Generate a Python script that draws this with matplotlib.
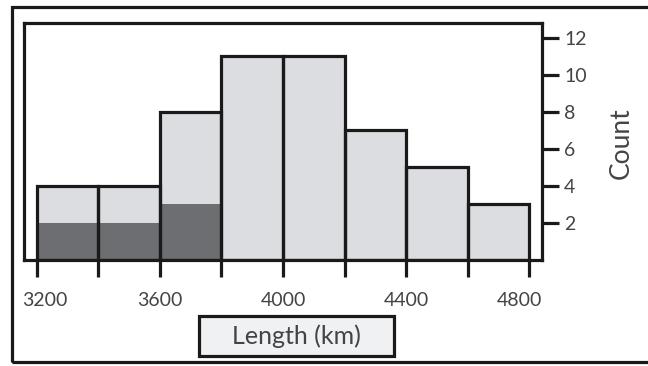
import matplotlib.pyplot as plt
import matplotlib.transforms as mtransforms
from matplotlib.patches import Rectangle

plt.rcParams['font.family'] = ['Lato', 'DejaVu Sans']

# bins and counts
edges = [3200, 3400, 3600, 3800, 4000, 4200, 4400, 4600, 4800]
counts = [4, 4, 8, 11, 11, 7, 5, 3]
dark_counts = [2, 2, 3, 0, 0, 0, 0, 0]
xtick_labels = ['3200', '', '3600', '', '4000', '', '4400', '', '4800']
yticks = [2, 4, 6, 8, 10, 12]

light = '#dcdde0'
dark = '#6d6e71'
txt = '#444444'
lw = 2.3

fig = plt.figure(figsize=(6.48, 3.66), dpi=100)
W, H = 648, 366
ax = fig.add_axes([24 / W, 1 - 260 / H, (542 - 24) / W, (260 - 23) / H])

widths = [edges[i + 1] - edges[i] for i in range(len(counts))]
ax.bar(edges[:-1], counts, width=widths, align='edge', color=light, linewidth=0, zorder=1)
ax.bar(edges[:-1], dark_counts, width=widths, align='edge', color=dark, linewidth=0, zorder=2)
ax.bar(edges[:-1], counts, width=widths, align='edge', fill=False, edgecolor='#1a1a1a',
       linewidth=lw, zorder=3)

ax.set_xlim(3158, 4842)
ax.set_ylim(0, 12.8)

for s in ax.spines.values():
    s.set_linewidth(lw)
    s.set_color('#1a1a1a')

ax.set_xticks(edges)
ax.set_xticklabels(xtick_labels, fontsize=14, color=txt)
ax.tick_params(axis='x', direction='out', length=12, width=lw, color='#1a1a1a', pad=11)

# end labels sit a bit inward of their ticks
labs = ax.get_xticklabels()
labs[0].set_transform(labs[0].get_transform() + mtransforms.ScaledTranslation(0.08, 0, fig.dpi_scale_trans))
labs[-1].set_transform(labs[-1].get_transform() + mtransforms.ScaledTranslation(-0.10, 0, fig.dpi_scale_trans))

ax.yaxis.tick_right()
ax.set_yticks(yticks)
ax.set_yticklabels([str(v) for v in yticks], fontsize=14, color=txt)
ax.tick_params(axis='y', direction='out', length=12, width=lw, color='#1a1a1a', pad=4)

fig.text(621 / W, 1 - 143 / H, 'Count', rotation=90, ha='center', va='center',
         fontsize=19, color=txt)

# x label in its own box
fig.patches.append(Rectangle((199 / W, 1 - 356 / H), (394 - 199) / W, (356 - 316) / H,
                             transform=fig.transFigure, facecolor='#f0f1f3',
                             edgecolor='#1a1a1a', linewidth=lw))
fig.text(296 / W, 1 - 336 / H, 'Length (km)', ha='center', va='center',
         fontsize=18, color=txt)

# outer frame
fig.patches.append(Rectangle((12 / W, 1 - 362 / H), 1.0, (362 - 7) / H,
                             transform=fig.transFigure, fill=False,
                             edgecolor='#1a1a1a', linewidth=lw))

fig.savefig('out.png', dpi=100)
